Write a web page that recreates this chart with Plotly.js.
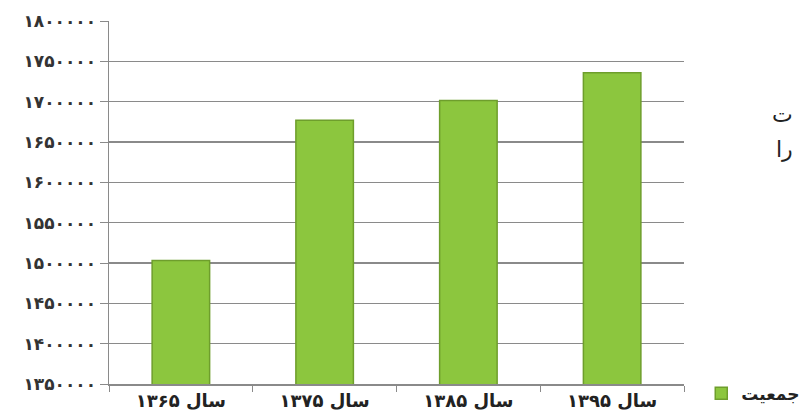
<!DOCTYPE html>
<html>
<head>
<meta charset="utf-8">
<script src="https://cdn.plot.ly/plotly-3.0.1.min.js"></script>
<style>html,body{margin:0;padding:0;background:#fff;}#chart{width:807px;height:412px;}</style>
</head>
<body>
<div id="chart"></div>
<script>
var categories = ['سال ۱۳۶۵', 'سال ۱۳۷۵', 'سال ۱۳۸۵', 'سال ۱۳۹۵'];
var population = [1503000, 1677000, 1701500, 1736000];
var seriesName = 'جمعیت';
var yTickVals = [1350000, 1400000, 1450000, 1500000, 1550000, 1600000, 1650000, 1700000, 1750000, 1800000];
var yTickText = ['۱۳۵۰۰۰۰', '۱۴۰۰۰۰۰', '۱۴۵۰۰۰۰', '۱۵۰۰۰۰۰', '۱۵۵۰۰۰۰', '۱۶۰۰۰۰۰', '۱۶۵۰۰۰۰', '۱۷۰۰۰۰۰', '۱۷۵۰۰۰۰', '۱۸۰۰۰۰۰'];

var trace = {
  type: 'bar',
  x: categories,
  y: population,
  name: seriesName,
  marker: {color: '#8cc63e', line: {color: '#6e9e2c', width: 1.5}},
  showlegend: true
};

var layout = {
  width: 807, height: 412,
  margin: {l: 109, r: 123, t: 21, b: 28, autoexpand: false},
  paper_bgcolor: '#ffffff', plot_bgcolor: '#ffffff',
  font: {family: 'DejaVu Sans, sans-serif', color: '#333'},
  bargap: 0.6,
  xaxis: {
    type: 'category',
    showline: true, linecolor: '#8a8a8a', linewidth: 1.5,
    ticks: 'outside', tickson: 'boundaries', ticklen: 6, tickcolor: '#8a8a8a',
    tickfont: {size: 18, color: '#222', family: 'DejaVu Sans, sans-serif', weight: 'bold'},
    showgrid: false, fixedrange: true, automargin: false
  },
  yaxis: {
    range: [1350000, 1800000],
    tickvals: yTickVals, ticktext: yTickText,
    showline: true, linecolor: '#8a8a8a', linewidth: 1.5,
    ticks: 'outside', ticklen: 8, tickcolor: '#8a8a8a',
    showgrid: true, gridcolor: '#8a8a8a', gridwidth: 1.2,
    zeroline: false,
    tickfont: {size: 17, color: '#333', family: 'DejaVu Sans, sans-serif', weight: 'bold'},
    fixedrange: true, automargin: false
  },
  legend: {
    x: 1.03, y: -0.027, xanchor: 'left', yanchor: 'middle',
    bgcolor: 'rgba(0,0,0,0)',
    font: {size: 17, color: '#222', family: 'DejaVu Sans, sans-serif', weight: 'bold'},
    itemwidth: 30
  },
  annotations: [
    {text: 'ت', xref: 'paper', yref: 'paper', x: (795 - 109) / 575, y: (384 - 100) / 363, showarrow: false, font: {size: 22, color: '#222', family: 'DejaVu Sans, sans-serif'}},
    {text: 'را', xref: 'paper', yref: 'paper', x: (795 - 109) / 575, y: (384 - 149) / 363, showarrow: false, font: {size: 22, color: '#222', family: 'DejaVu Sans, sans-serif'}}
  ]
};

Plotly.newPlot('chart', [trace], layout, {displayModeBar: false, staticPlot: true});
</script>
</body>
</html>
